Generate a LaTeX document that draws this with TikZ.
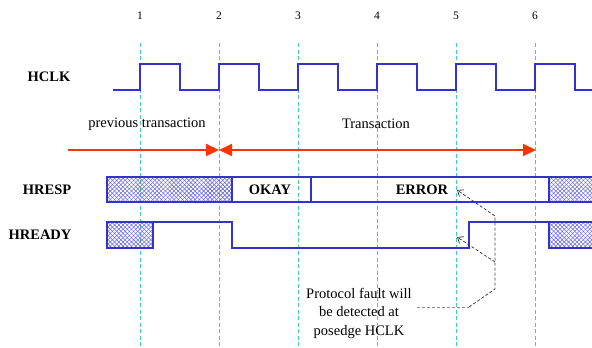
\documentclass[tikz,border=0pt]{standalone}
\usepackage{fontspec}
\setmainfont{Liberation Serif}
\usetikzlibrary{arrows.meta,patterns.meta}
\definecolor{wavec}{RGB}{51,51,204}
\definecolor{hatchc}{RGB}{110,110,225}
\definecolor{trred}{RGB}{255,51,0}
\definecolor{guidec}{RGB}{60,210,175}
\definecolor{guidegray}{RGB}{130,175,165}
\begin{document}
\begin{tikzpicture}[x=1pt,y=-1pt,
  guide/.style={draw=guidec, line width=0.9pt, dash pattern=on 4pt off 2.5pt},
  guidegr/.style={draw=guidegray, line width=0.9pt, dash pattern=on 4pt off 2.5pt},
  numlbl/.style={font=\fontsize{11.5}{13}\selectfont, inner sep=1pt},
  siglbl/.style={font=\fontsize{14.5}{17}\selectfont\bfseries, inner sep=1pt},
  txtlbl/.style={font=\fontsize{14.5}{18.5}\selectfont, inner sep=1pt, align=center},
  wavep/.style={draw=wavec, line width=2.2pt, line join=miter},
  hatchA/.style={pattern={Lines[angle=45,distance=3pt,line width=0.6pt]}, pattern color=hatchc},
  hatchB/.style={pattern={Lines[angle=-45,distance=3pt,line width=0.6pt]}, pattern color=hatchc},
  trarrow/.style={draw=trred, line width=2pt},
  ptr/.style={draw=black!75, line width=0.8pt, dash pattern=on 3pt off 2pt, -{Straight Barb[length=5pt,width=8pt]}},
  faint/.style={draw=black!45, line width=0.9pt, dash pattern=on 3pt off 2pt}
]
\useasboundingbox (0,0) rectangle (592,348);

% guides and edge numbers
\foreach \x/\n in {140/1,219/2,298/3,456/5,535/6}{
  \node[numlbl] (num\n) at (\x,16) {\n};
  \draw[guide] (\x,43) -- (\x,348);
}
\node[numlbl] (num4) at (377,16) {4};
\draw[guidegr] (377,43) -- (377,348);

% signal labels
\node[siglbl] (hclk) at (49,77) {HCLK};
\node[siglbl] (hresp) at (47,190) {HRESP};
\node[siglbl] (hready) at (40,235) {HREADY};

% clock
\draw[wavep] (113,90) -| (140,64) -| (180,90) -| (219,64) -| (259,90) -| (298,64)
  -| (338,90) -| (377,64) -| (417,90) -| (456,64) -| (496,90) -| (535,64)
  -| (575,90) -- (592,90);

% transaction labels and arrows
\node[txtlbl] (prevt) at (147,124) {previous transaction};
\node[txtlbl] (curt) at (376,124) {Transaction};
\coordinate (pa) at (68,150);
\coordinate (pb) at (219,150);
\coordinate (pc) at (536,150);
\draw[trarrow, -{Triangle[length=13pt,width=12pt]}] (pa) -- (pb);
\draw[trarrow, {Triangle[length=13pt,width=12pt]}-{Triangle[length=13pt,width=12pt]}] (pb) -- (pc);

% HRESP
\fill[hatchA] (107,177) rectangle (232,202);
\fill[hatchB] (107,177) rectangle (232,202);
\draw[wavep] (107,177) rectangle (232,202);
\draw[wavep] (232,177) rectangle (311,202);
\draw[wavep] (311,177) rectangle (549,202);
\fill[hatchA] (549,177) rectangle (592,202);
\fill[hatchB] (549,177) rectangle (592,202);
\draw[wavep] (593,177) -- (549,177) -- (549,202) -- (593,202);
\node[siglbl] (okay) at (270,190) {OKAY};
\node[siglbl] (error) at (422,190) {ERROR};

% HREADY
\fill[hatchA] (107,222) rectangle (153,248);
\fill[hatchB] (107,222) rectangle (153,248);
\draw[wavep] (107,222) rectangle (153,248);
\draw[wavep] (153,222) -- (232,222) -- (232,248) -- (469,248) -- (469,222) -- (549,222);
\fill[hatchA] (549,222) rectangle (592,248);
\fill[hatchB] (549,222) rectangle (592,248);
\draw[wavep] (593,222) -- (549,222) -- (549,248) -- (593,248);

% annotation
\node[txtlbl] (fault) at (359,313) {Protocol fault will\\be detected at\\posedge HCLK};
\coordinate (j1) at (495,216);
\coordinate (j2) at (495,262);
\coordinate (j3) at (495,289);
\coordinate (j4) at (469,307);
\coordinate (erra) at (457,190);
\coordinate (rdya) at (457,237);
\draw[faint] ([xshift=4pt]fault.east |- j4) -- (j4);
\draw[ptr] (j4) -- (j3) -- (j1) -- (erra);
\draw[ptr] (j2) -- (rdya);
\end{tikzpicture}
\end{document}
